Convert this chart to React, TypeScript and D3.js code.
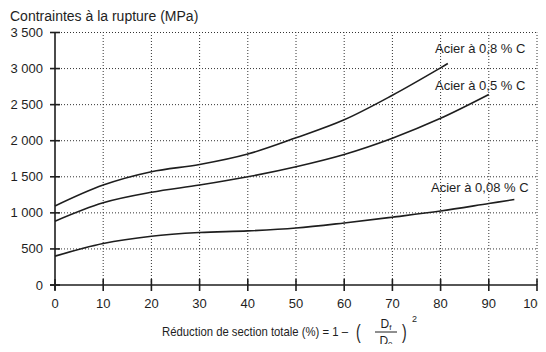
import React, { useRef, useEffect } from 'react';
import * as d3 from 'd3';

const xTicks = [0, 10, 20, 30, 40, 50, 60, 70, 80, 90, 100];
const yTicks = [0, 500, 1000, 1500, 2000, 2500, 3000, 3500];

const steel08X = [0, 10, 20, 30, 40, 50, 60, 70, 80, 81.5];
const steel08Y = [1095, 1385, 1570, 1670, 1815, 2040, 2290, 2630, 3010, 3070];

const steel05X = [0, 10, 20, 30, 40, 50, 60, 70, 80, 90];
const steel05Y = [885, 1140, 1285, 1385, 1500, 1640, 1810, 2035, 2310, 2640];

const steel008X = [0, 10, 20, 30, 40, 50, 60, 70, 80, 90, 95.3];
const steel008Y = [400, 575, 676, 727, 750, 790, 860, 940, 1025, 1130, 1185];

const series = [
  { label: 'Acier à 0,8 % C', xs: steel08X, ys: steel08Y, lx: 435, ly: 53 },
  { label: 'Acier à 0,5 % C', xs: steel05X, ys: steel05Y, lx: 435, ly: 90 },
  { label: 'Acier à 0,08 % C', xs: steel008X, ys: steel008Y, lx: 431, ly: 192 },
];

const App = () => {
  const svgRef = useRef<SVGSVGElement>(null);

  useEffect(() => {
    const svg = d3.select(svgRef.current);
    svg.selectAll('*').remove();

    const x = d3.scaleLinear().domain([0, 100]).range([55, 537]);
    const y = d3.scaleLinear().domain([0, 3500]).range([285, 32.5]);
    const ink = '#1e1e1e';
    const font = '"Liberation Sans", Arial, sans-serif';

    // grid
    const grid = svg.append('g')
      .attr('stroke', '#333')
      .attr('stroke-width', 1)
      .attr('stroke-dasharray', '1,2');
    grid.selectAll('line.v')
      .data(xTicks.slice(1))
      .enter().append('line')
      .attr('x1', d => x(d)).attr('x2', d => x(d))
      .attr('y1', y(0)).attr('y2', y(3500));
    grid.selectAll('line.h')
      .data(yTicks.slice(1))
      .enter().append('line')
      .attr('x1', x(0)).attr('x2', x(100))
      .attr('y1', d => y(d)).attr('y2', d => y(d));

    // axes
    const axes = svg.append('g').attr('stroke', ink).attr('stroke-width', 1.6);
    axes.append('line')
      .attr('x1', x(0)).attr('x2', x(0)).attr('y1', y(0) + 5).attr('y2', y(3500));
    axes.append('line')
      .attr('x1', x(0) - 5).attr('x2', x(100)).attr('y1', y(0)).attr('y2', y(0));
    axes.selectAll('line.yt')
      .data(yTicks)
      .enter().append('line')
      .attr('x1', x(0) - 5).attr('x2', x(0) + 5)
      .attr('y1', d => y(d)).attr('y2', d => y(d));
    axes.selectAll('line.xt')
      .data(xTicks)
      .enter().append('line')
      .attr('x1', d => x(d)).attr('x2', d => x(d))
      .attr('y1', y(0) - 6).attr('y2', y(0) + 6);

    const fmt = (v: number) => (v >= 1000 ? `${Math.floor(v / 1000)} ${String(v % 1000).padStart(3, '0')}` : `${v}`);

    svg.append('g')
      .selectAll('text')
      .data(yTicks)
      .enter().append('text')
      .attr('x', 43)
      .attr('y', d => y(d))
      .attr('dy', '0.35em')
      .attr('text-anchor', 'end')
      .attr('font-family', font)
      .attr('font-size', 13)
      .attr('fill', ink)
      .text(d => fmt(d));

    svg.append('g')
      .selectAll('text')
      .data(xTicks)
      .enter().append('text')
      .attr('x', d => Math.min(x(d), 534))
      .attr('y', 308)
      .attr('text-anchor', 'middle')
      .attr('font-family', font)
      .attr('font-size', 13)
      .attr('fill', ink)
      .text(d => d);

    // curves
    const line = d3.line<[number, number]>()
      .x(d => x(d[0]))
      .y(d => y(d[1]))
      .curve(d3.curveCatmullRom.alpha(0.5));

    series.forEach(s => {
      const pts: [number, number][] = s.xs.map((v, i) => [v, s.ys[i]]);
      svg.append('path')
        .attr('d', line(pts))
        .attr('fill', 'none')
        .attr('stroke', ink)
        .attr('stroke-width', 1.6);
      svg.append('text')
        .attr('x', s.lx)
        .attr('y', s.ly)
        .attr('font-family', font)
        .attr('font-size', 13)
        .attr('fill', ink)
        .text(s.label);
    });

    // titles
    svg.append('text')
      .attr('x', 10)
      .attr('y', 21)
      .attr('font-family', font)
      .attr('font-size', 14)
      .attr('fill', ink)
      .text('Contraintes à la rupture (MPa)');

    const xt = svg.append('g')
      .attr('font-family', font)
      .attr('fill', ink);
    xt.append('text')
      .attr('x', 162)
      .attr('y', 336)
      .attr('font-size', 12.2)
      .attr('textLength', 186)
      .attr('lengthAdjust', 'spacingAndGlyphs')
      .text('Réduction de section totale (%) = 1 –');
    xt.append('text')
      .attr('transform', 'translate(356,339) scale(1,1.45)')
      .attr('font-size', 14)
      .text('(');
    xt.append('text')
      .attr('x', 386).attr('y', 328)
      .attr('text-anchor', 'middle')
      .attr('font-size', 12)
      .html('D<tspan font-size="8" dy="2">f</tspan>');
    xt.append('line')
      .attr('x1', 375).attr('x2', 397)
      .attr('y1', 332).attr('y2', 332)
      .attr('stroke', ink).attr('stroke-width', 1);
    xt.append('text')
      .attr('x', 386).attr('y', 345)
      .attr('text-anchor', 'middle')
      .attr('font-size', 12)
      .html('D<tspan font-size="8" dy="2">0</tspan>');
    xt.append('text')
      .attr('transform', 'translate(402,339) scale(1,1.45)')
      .attr('font-size', 14)
      .text(')');
    xt.append('text')
      .attr('x', 412)
      .attr('y', 322)
      .attr('font-size', 9)
      .text('2');
  }, []);

  return (
    <div style={{ width: 546, height: 352, margin: -8, background: '#fff' }}>
      <svg ref={svgRef} width={546} height={352} style={{ display: 'block' }} />
    </div>
  );
};

export default App;
